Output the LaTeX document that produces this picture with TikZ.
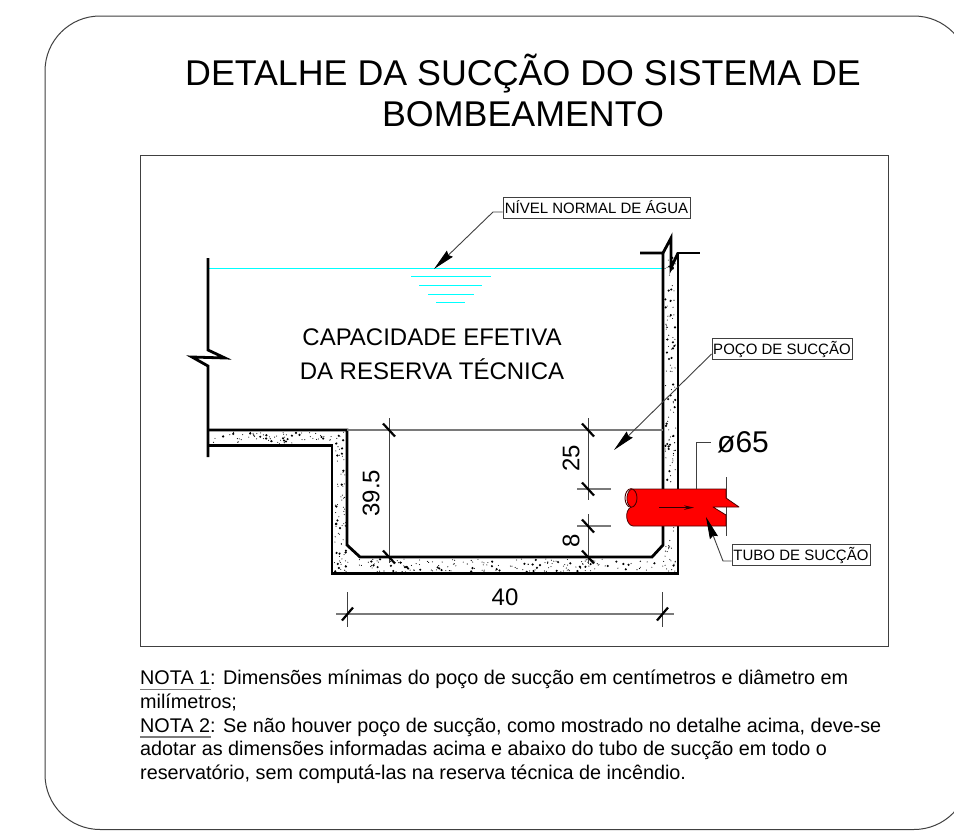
\documentclass[tikz,border=0pt]{standalone}
\usepackage{fontspec}
\setmainfont{Liberation Sans}
\usetikzlibrary{arrows.meta}
\definecolor{thinline}{HTML}{404040}
\definecolor{midline}{HTML}{7A7A7A}
\definecolor{waterc}{HTML}{00FFFF}
\newcommand{\fsz}[1]{\fontsize{#1}{#1}\selectfont}
\newcommand{\stipple}[5]{%
  \foreach \k in {1,...,#5}{%
    \pgfmathsetmacro{\px}{#1+rnd*(#2-#1)}%
    \pgfmathsetmacro{\py}{#3+rnd*(#4-#3)}%
    \pgfmathsetmacro{\pr}{rnd<0.25 ? 1.2 : 0.55}%
    \fill[black] (\px,\py) circle[radius=\pr];
  }%
}
\tikzset{
  framebox/.style={draw=thinline,line width=1pt},
  wall/.style={draw=black,line width=2.8pt,line join=miter},
  thin dim/.style={draw=thinline,line width=0.8pt},
  gray dim/.style={draw=midline,line width=1.2pt},
  slash/.style={draw=black,line width=2.2pt},
  water/.style={draw=waterc,line width=1.6pt},
  labelbox/.style={draw=thinline,line width=0.9pt,fill=white,inner sep=0pt,minimum height=21pt,font=\fsz{15}},
  leader/.style={draw=thinline,line width=0.9pt},
  pointer/.style={leader,-{Stealth[length=22pt,width=8.5pt,inset=2pt,color=black]}},
  dimtext/.style={font=\fsz{24},inner sep=0pt},
  bodytext/.style={font=\fsz{24},inner sep=0pt},
  notetext/.style={font=\fsz{19.8},inner sep=0pt,anchor=base west},
  titletext/.style={font=\fsz{35.8},inner sep=0pt}
}
\begin{document}
\begin{tikzpicture}[x=1pt,y=-1pt]
\useasboundingbox (0,0) rectangle (954,833);
\fill[white] (0,0) rectangle (954,833);
% outer frame (runs past the right edge)
\begin{scope}
\clip (0,0) rectangle (954,833);
\draw[framebox,rounded corners=55pt] (45,16) rectangle (969,829.5);
\end{scope}
% inner frame
\draw[framebox] (140.5,155) rectangle (888,646);
% title
\node[titletext] (title1) at (523,74) {DETALHE DA SUCÇÃO DO SISTEMA DE};
\node[titletext] (title2) at (523,114) {BOMBEAMENTO};
% concrete stipple
\pgfmathsetseed{4217}
\stipple{210}{332}{432}{444}{70}
\stipple{334}{346}{432}{572}{75}
\stipple{334}{676}{559}{572}{190}
\stipple{665}{676}{256}{572}{140}
% water
\draw[water] (209,268.5) -- (662,268.5);
\draw[water] (411,276.5) -- (491,276.5);
\draw[water] (419,285.5) -- (482,285.5);
\draw[water] (428,294.5) -- (474,294.5);
\draw[water] (436,302.5) -- (465,302.5);
% structure
\draw[wall] (208,258) -- (208,350) -- (225,358) -- (192,357) -- (208,366) -- (208,457);
\draw[wall] (208,430) -- (347,430) -- (347,545) -- (360,557) -- (652,557) -- (663,545) -- (663,253) -- (640,253);
\draw[wall] (208,445.5) -- (332,445.5) -- (332,573.5) -- (678,573.5) -- (678,253) -- (700,253);
\fill[white] (664.5,254.5) rectangle (676.5,238);
\draw[wall] (663,253) -- (671,238) -- (671,268) -- (678,253);
% dimension and reference lines
\draw[gray dim] (347,430) -- (663,430);
\draw[thin dim] (389,418) -- (389,563);
\draw[thin dim] (588,418) -- (588,500);
\draw[thin dim] (588,514) -- (588,564);
\draw[gray dim] (577,489) -- (611,489);
\draw[gray dim] (577,526) -- (611,526);
\draw[gray dim] (336,614) -- (674,614);
\draw[thin dim] (347.5,592) -- (347.5,627);
\draw[thin dim] (662.5,592) -- (662.5,627);
\foreach \p in {(389,430),(389,557),(588,430),(588,489),(588,526),(588,557)}
  \draw[slash] \p ++(-6,-6.5) -- ++(12,13);
\foreach \p in {(347.5,614),(662.5,614)}
  \draw[slash] \p ++(-5.5,6.5) -- ++(11,-13);
% suction pipe
\draw[thin dim] (726,477) -- (726,536);
\draw[fill=red,draw=black!70!red,line width=0.8pt,line join=round]
  (726,489) -- (632,489) .. controls (627,490) and (624,503) .. (631,507)
  .. controls (624,511) and (626,525) .. (633,526) -- (726,526) -- (726,515) -- (713,507)
  -- (739,507) -- (726,498) -- cycle;
\draw[draw=black!70!red,line width=0.9pt] (631,498) ellipse[x radius=6,y radius=9.3];
\coordinate (flowa) at (659,507.6);
\coordinate (flowb) at (694,507.6);
\draw[draw=black!80!red,line width=1.1pt,-{Stealth[length=10pt,width=4.5pt]}] (flowa) -- (flowb);
% labels with leaders
\node[labelbox,minimum width=187pt] (nivel) at (596.5,207.5) {NÍVEL NORMAL DE ÁGUA};
\coordinate (nivelelbow) at (493,212);
\coordinate (niveltip) at (434,269);
\draw[pointer] (nivel.west |- nivelelbow) -- (nivelelbow) -- (niveltip);
\node[labelbox,minimum width=140pt] (poco) at (782,349) {POÇO DE SUCÇÃO};
\coordinate (pocotip) at (614,450);
\draw[pointer] (poco.west |- 0,354) -- (pocotip);
\node[labelbox,minimum width=138pt] (tubo) at (801,555) {TUBO DE SUCÇÃO};
\coordinate (tuboelbow) at (723,561);
\coordinate (tubotip) at (706,517);
\draw[pointer] (tubo.west |- tuboelbow) -- (tuboelbow) -- (tubotip);
\node[font=\fsz{30},inner sep=0pt,anchor=west] (dia) at (717,442) {ø65};
\coordinate (diaelbow) at (696,442);
\coordinate (diafoot) at (696,489);
\draw[leader] (711,442) -- (diaelbow) -- (diafoot);
% body text
\node[bodytext] (cap1) at (432,337) {CAPACIDADE EFETIVA};
\node[bodytext] (cap2) at (432,369.5) {DA RESERVA TÉCNICA};
\node[dimtext,rotate=90] (d395) at (371,493) {39.5};
\node[dimtext,rotate=90] (d25) at (571,458) {25};
\node[dimtext,rotate=90] (d8) at (571,541) {8};
\node[dimtext] (d40) at (505,597) {40};
% notes
\node[notetext] (n1) at (140,684.5) {NOTA 1: Dimensões mínimas do poço de sucção em centímetros e diâmetro em};
\node[notetext] (n2) at (140,708.5) {milímetros;};
\node[notetext] (n3) at (140,732) {NOTA 2: Se não houver poço de sucção, como mostrado no detalhe acima, deve-se};
\node[notetext] (n4) at (140,755.5) {adotar as dimensões informadas acima e abaixo do tubo de sucção em todo o};
\node[notetext] (n5) at (140,779.5) {reservatório, sem computá-las na reserva técnica de incêndio.};
\draw[gray dim] (140,689.5) -- (211,689.5);
\draw[gray dim] (140,737) -- (211,737);
\end{tikzpicture}
\end{document}
